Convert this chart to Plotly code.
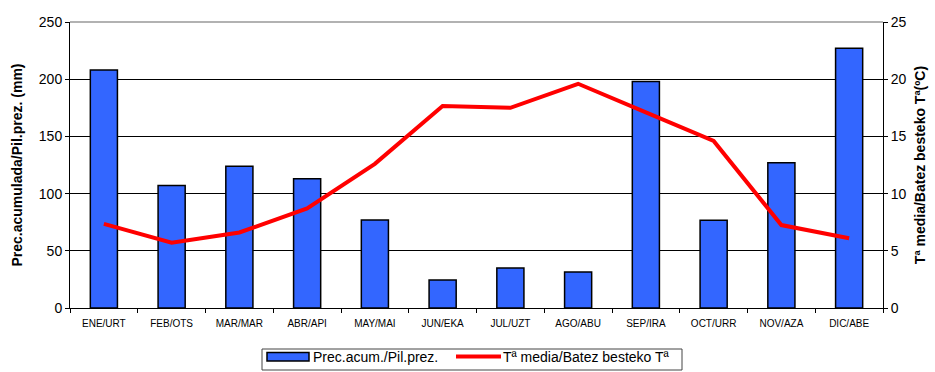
import plotly.graph_objects as go

months = ["ENE/URT", "FEB/OTS", "MAR/MAR", "ABR/API", "MAY/MAI", "JUN/EKA",
          "JUL/UZT", "AGO/ABU", "SEP/IRA", "OCT/URR", "NOV/AZA", "DIC/ABE"]
precip = [208, 107, 124, 113, 77, 24.5, 35, 31.5, 198, 76.6, 127, 227]
temp = [7.35, 5.7, 6.6, 8.7, 12.6, 17.65, 17.5, 19.6, 17.1, 14.6, 7.25, 6.1]

left_ticks = [0, 50, 100, 150, 200, 250]
right_ticks = [0, 5, 10, 15, 20, 25]

bar_name = "Prec.acum./Pil.prez."
line_name = "Tª media/Batez besteko Tª"

FONT = "Liberation Sans, Arial, sans-serif"
BAR_COLOR = "#3366FF"
LINE_COLOR = "#FF0000"

W, H = 935, 372
ML, MR, MT, MB = 70, 52, 22, 64
PW, PH = W - ML - MR, H - MT - MB


def px(x):  # pixel -> paper x
    return (x - ML) / PW


def py(y):  # pixel -> paper y
    return (H - MB - y) / PH


fig = go.Figure()
fig.add_trace(go.Bar(
    x=months, y=precip, name=bar_name,
    marker=dict(color=BAR_COLOR, line=dict(color="black", width=1.5)),
    width=0.4, yaxis="y"))
fig.add_trace(go.Scatter(
    x=months, y=temp, name=line_name,
    mode="lines", line=dict(color=LINE_COLOR, width=4), yaxis="y2"))

# legend drawn as a framed box below the plot (Excel-style)
legend_shapes = [
    dict(type="rect", xref="paper", yref="paper", x0=px(262), x1=px(682),
         y0=py(370), y1=py(349), line=dict(color="#444444", width=1),
         fillcolor="white"),
    dict(type="rect", xref="paper", yref="paper", x0=px(267), x1=px(309),
         y0=py(361), y1=py(352.5), line=dict(color="black", width=1.5),
         fillcolor=BAR_COLOR),
    dict(type="line", xref="paper", yref="paper", x0=px(456), x1=px(501),
         y0=py(356.5), y1=py(356.5), line=dict(color=LINE_COLOR, width=4)),
]
legend_texts = [
    dict(text=bar_name, xref="paper", yref="paper", x=px(311), y=py(357),
         xanchor="left", yanchor="middle", showarrow=False,
         font=dict(size=14, family=FONT, color="black")),
    dict(text=line_name, xref="paper", yref="paper", x=px(501), y=py(357),
         xanchor="left", yanchor="middle", showarrow=False,
         font=dict(size=14, family=FONT, color="black")),
]

fig.update_layout(
    width=W, height=H,
    margin=dict(l=ML, r=MR, t=MT, b=MB, autoexpand=False),
    paper_bgcolor="white", plot_bgcolor="white",
    font=dict(family=FONT, color="black"),
    showlegend=False,
    xaxis=dict(type="category", tickson="boundaries", ticks="outside", ticklen=4,
               tickcolor="black", showline=True, linecolor="black", linewidth=1,
               tickfont=dict(size=10, family=FONT), showgrid=False,
               ticklabelstandoff=6, automargin=False),
    yaxis=dict(range=[0, 250], tickvals=left_ticks, ticks="outside", ticklen=4,
               tickcolor="black", showline=True, linecolor="black", linewidth=1,
               gridcolor="black", gridwidth=1, zeroline=False,
               tickfont=dict(size=14, family=FONT), automargin=False,
               title=dict(text="<b>Prec.acumulada/Pil.prez. (mm)</b>",
                          font=dict(size=14, family=FONT), standoff=12)),
    yaxis2=dict(range=[0, 25], tickvals=right_ticks, overlaying="y", side="right",
                ticks="outside", ticklen=4, tickcolor="black", showline=True,
                linecolor="black", linewidth=1, showgrid=False, zeroline=False,
                tickfont=dict(size=14, family=FONT), automargin=False,
                title=dict(text="<b>Tª media/Batez besteko Tª(ºC)</b>",
                           font=dict(size=14, family=FONT), standoff=9)),
    shapes=[dict(type="line", xref="paper", yref="paper", x0=0, x1=1, y0=1, y1=1,
                 line=dict(color="#999999", width=1.5))] + legend_shapes,
    annotations=legend_texts,
)

fig.write_html("out.html", config={"displayModeBar": False},
               post_script="document.body.style.margin='0';document.body.style.overflow='hidden';")
